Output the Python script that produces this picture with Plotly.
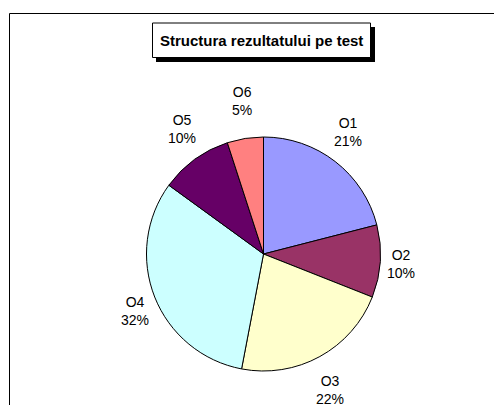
import math
import plotly.graph_objects as go

# Data
labels = ['O1', 'O2', 'O3', 'O4', 'O5', 'O6']
values = [21, 10, 22, 32, 10, 5]
colors = ['#9999FF', '#993366', '#FFFFCC', '#CCFFFF', '#660066', '#FF8080']
title_text = 'Structura rezultatului pe test'

W, H = 502, 405
OFF = 8  # page body margin shifts the figure by 8px
cx, cy, r = 263.5 - OFF, 254 - OFF, 117  # pie centre and radius in pixels
lab_rx, lab_ry = 138, 155                # label ring


def px_x(x):
    return (x - OFF) / W


def px_y(y):
    return 1 - (y - OFF) / H


fig = go.Figure(go.Pie(
    labels=labels,
    values=values,
    marker=dict(colors=colors, line=dict(color='black', width=1)),
    sort=False,
    direction='clockwise',
    rotation=0,
    textinfo='none',
    hoverinfo='skip',
    domain=dict(x=[(cx - r) / W, (cx + r) / W],
                y=[(H - cy - r) / H, (H - cy + r) / H]),
))

# labels outside the pie, placed at each slice's mid angle
total = sum(values)
cum = 0
for lab, v in zip(labels, values):
    mid = (cum + v / 2) / total * 2 * math.pi
    cum += v
    lx = cx + lab_rx * math.sin(mid)
    ly = cy - lab_ry * math.cos(mid)
    fig.add_annotation(
        x=lx / W, y=1 - ly / H, xref='paper', yref='paper',
        text=f'{lab}<br>{round(v / total * 100)}%',
        showarrow=False, xanchor='center', yanchor='middle',
        font=dict(family='Liberation Sans, Arial', size=14, color='black'),
    )

# outer chart frame
fig.add_shape(type='rect', xref='paper', yref='paper',
              x0=px_x(9.5), x1=1.05, y0=-0.05, y1=px_y(13.5),
              line=dict(color='black', width=1), fillcolor='rgba(0,0,0,0)')

# title box with shadow
fig.add_shape(type='rect', xref='paper', yref='paper',
              x0=px_x(156), x1=px_x(375), y0=px_y(62), y1=px_y(27),
              line=dict(width=0), fillcolor='black')
fig.add_shape(type='rect', xref='paper', yref='paper',
              x0=px_x(152.5), x1=px_x(370.5), y0=px_y(57.5), y1=px_y(23),
              line=dict(color='black', width=1), fillcolor='white')
fig.add_annotation(
    x=px_x(261.5), y=px_y(40), xref='paper', yref='paper',
    text=f'<b>{title_text}</b>', showarrow=False,
    xanchor='center', yanchor='middle',
    font=dict(family='Liberation Sans, Arial', size=15, color='black'),
)

fig.update_layout(
    width=W, height=H,
    margin=dict(l=0, r=0, t=0, b=0),
    showlegend=False,
    paper_bgcolor='white',
    plot_bgcolor='white',
)

fig.write_html('out.html')
